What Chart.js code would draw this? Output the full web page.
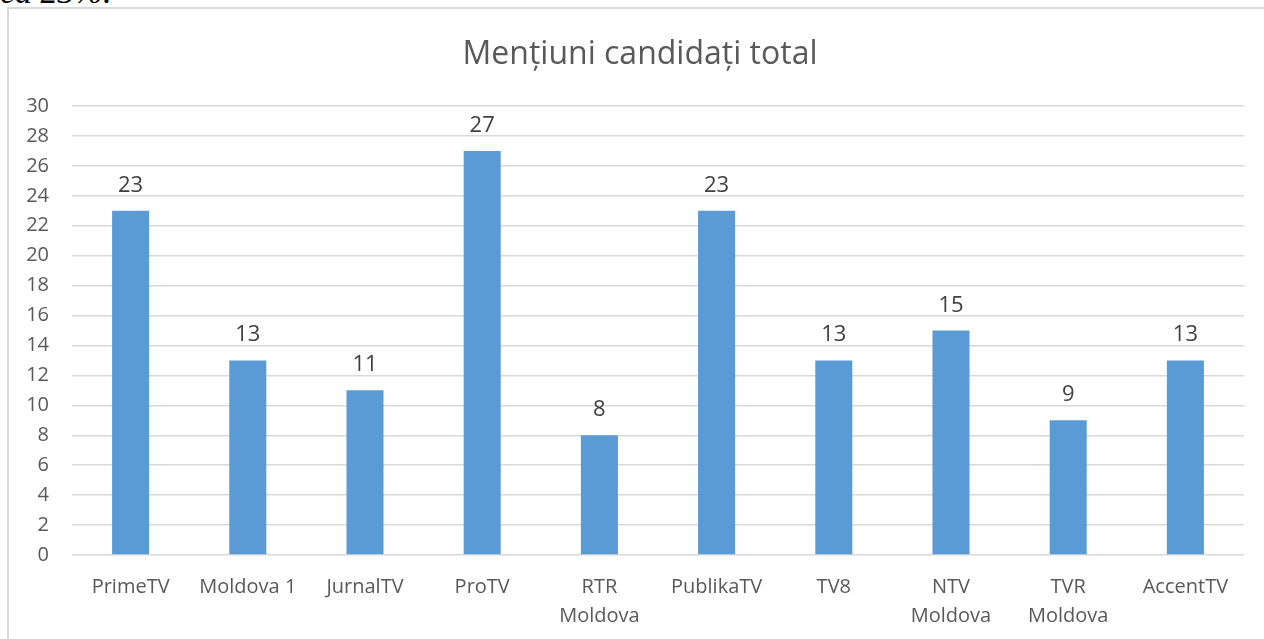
<!DOCTYPE html>
<html>
<head>
<meta charset="utf-8">
<script src="https://cdn.jsdelivr.net/npm/chart.js@4.4.1/dist/chart.umd.min.js"></script>
<style>
  html, body { margin: 0; padding: 0; background: #fff; overflow: hidden; }
  #wrap { position: relative; width: 1264px; height: 639px; }
  #note { position: absolute; left: 0; top: -25px; font-family: "Liberation Serif", serif; font-style: italic; font-size: 34px; line-height: 34px; color: #000; white-space: nowrap; }
  #frame { position: absolute; left: 7px; top: 7px; width: 1300px; height: 700px; border: 2px solid #d9d9d9; box-sizing: border-box; }
  #c { position: absolute; left: 0; top: 0; }
</style>
</head>
<body>
<div id="wrap">
  <div id="note">ca 23%.</div>
  <div id="frame"></div>
  <canvas id="c" width="1264" height="639"></canvas>
</div>
<script>
const categories = ["PrimeTV", "Moldova 1", "JurnalTV", "ProTV", ["RTR", "Moldova"], "PublikaTV", "TV8", ["NTV", "Moldova"], ["TVR", "Moldova"], "AccentTV"];
const mentions = [23, 13, 11, 27, 8, 23, 13, 15, 9, 13];
const chartTitle = "Mențiuni candidați total";
const yMin = 0, yMax = 30, yStep = 2;

const FONT = "'Open Sans', 'Noto Sans', sans-serif";

const valueLabels = {
  id: 'valueLabels',
  afterDatasetsDraw(chart) {
    const ctx = chart.ctx;
    const meta = chart.getDatasetMeta(0);
    ctx.save();
    ctx.font = "22px " + FONT;
    ctx.fillStyle = "#404040";
    ctx.textAlign = "center";
    ctx.textBaseline = "alphabetic";
    meta.data.forEach((bar, i) => {
      ctx.fillText(String(chart.data.datasets[0].data[i]), bar.x, bar.y - 19);
    });
    ctx.restore();
  }
};

// center the title over the whole chart frame rather than over the plot box
const titleShift = {
  id: 'titleShift',
  afterLayout(chart) {
    if (chart.titleBlock) {
      chart.titleBlock.left += 18;
      chart.titleBlock.right += 18;
    }
  }
};

new Chart(document.getElementById('c'), {
  type: 'bar',
  data: {
    labels: categories,
    datasets: [{
      data: mentions,
      backgroundColor: '#5b9bd5',
      borderWidth: 0,
      barPercentage: 0.316,
      categoryPercentage: 1.0
    }]
  },
  options: {
    responsive: false,
    animation: false,
    layout: { padding: { left: 0, right: 20, top: 0, bottom: 0 } },
    plugins: {
      legend: { display: false },
      tooltip: { enabled: false },
      title: {
        display: true,
        text: chartTitle,
        color: '#595959',
        font: { family: FONT, size: 32, weight: 'normal', lineHeight: 1.2 },
        padding: { top: 36, bottom: 31.6 }
      }
    },
    scales: {
      x: {
        grid: { display: false, drawTicks: false },
        border: { display: false },
        ticks: {
          color: '#595959',
          font: { family: FONT, size: 20, lineHeight: 1.45 },
          padding: 18,
          maxRotation: 0,
          autoSkip: false
        },
        afterFit(scale) { scale.height = 84; }
      },
      y: {
        min: yMin, max: yMax,
        grid: { color: '#d9d9d9', lineWidth: 1.5, drawTicks: false },
        border: { display: false },
        ticks: {
          stepSize: yStep,
          color: '#595959',
          font: { family: FONT, size: 20 },
          padding: 23
        },
        afterFit(scale) { scale.width = 72; }
      }
    }
  },
  plugins: [valueLabels, titleShift]
});
</script>
</body>
</html>
